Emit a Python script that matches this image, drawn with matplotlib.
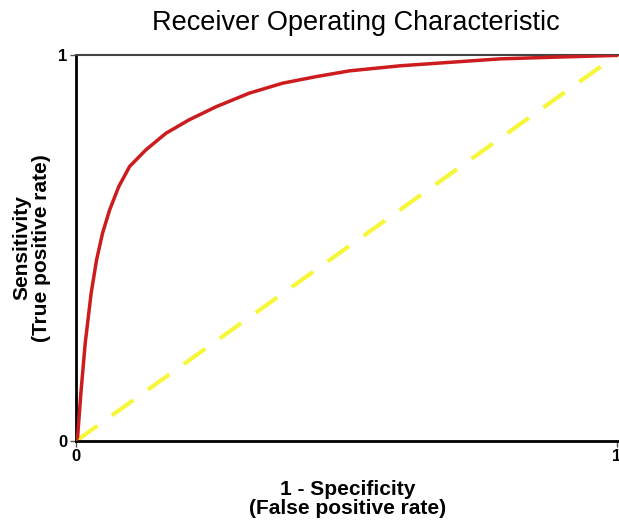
import matplotlib.pyplot as plt
import numpy as np

# ROC curve
fpr = [0.0, 0.003, 0.009, 0.017, 0.028, 0.038, 0.049, 0.062, 0.079, 0.099,
       0.129, 0.166, 0.209, 0.259, 0.320, 0.382, 0.444, 0.506, 0.599,
       0.691, 0.784, 0.876, 1.0]
tpr = [0.0, 0.011, 0.124, 0.253, 0.383, 0.469, 0.538, 0.598, 0.659, 0.711,
       0.754, 0.797, 0.832, 0.866, 0.901, 0.927, 0.944, 0.959, 0.972,
       0.981, 0.990, 0.994, 0.999]
chance = [0, 1]
ticks = [0, 1]
tick_labels = ["0", "1"]

plt.rcParams['font.family'] = ['Liberation Sans', 'DejaVu Sans']

fig = plt.figure(figsize=(6.19, 5.24), dpi=100)
ax = fig.add_axes([76 / 619, 83 / 524, 543 / 619, 386 / 524])

ax.plot(chance, chance, color='#f6f63a', lw=3, dashes=(6.3, 4.3), zorder=2)
ax.plot(fpr, tpr, color='#cc1c1e', lw=2.5, zorder=3,
        solid_capstyle='round', solid_joinstyle='round')

ax.set_xlim(0, 543 / 541)
ax.set_ylim(0, 1)
ax.set_xticks(ticks)
ax.set_xticklabels(tick_labels)
ax.set_yticks(ticks)
ax.set_yticklabels(tick_labels)
for lab in ax.get_xticklabels() + ax.get_yticklabels():
    lab.set_fontweight('bold')
    lab.set_fontsize(12)
ax.tick_params(length=4, width=1, color='#555555', pad=2)

ax.spines['right'].set_visible(False)
ax.spines['left'].set_linewidth(2)
ax.spines['bottom'].set_linewidth(2)
ax.spines['top'].set_linewidth(1.5)
ax.spines['top'].set_color('#444444')

ax.set_title("Receiver Operating Characteristic", fontsize=19.5, pad=18, x=0.515)
ax.set_xlabel("1 - Specificity\n(False positive rate)", fontsize=15,
              fontweight='bold', labelpad=11, linespacing=1.05)
ax.set_ylabel("Sensitivity\n(True positive rate)", fontsize=15,
              fontweight='bold', labelpad=5, linespacing=1.05)

fig.savefig("out.png", dpi=100)
